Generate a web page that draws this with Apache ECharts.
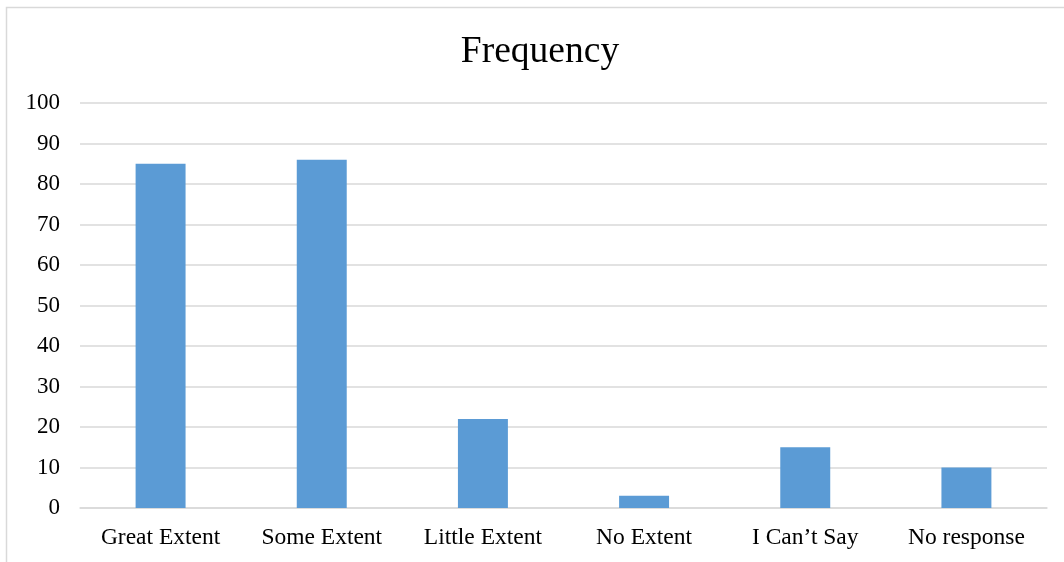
<!DOCTYPE html>
<html>
<head>
<meta charset="utf-8">
<script src="https://cdn.jsdelivr.net/npm/echarts@6/dist/echarts.min.js"></script>
<style>
  html, body { margin: 0; padding: 0; background: #fff; }
  #chart { width: 1064px; height: 562px; }
</style>
</head>
<body>
<div id="chart"></div>
<script>
var categories = ['Great Extent', 'Some Extent', 'Little Extent', 'No Extent', 'I Can\u2019t Say', 'No response'];
var frequency = [85, 86, 22, 3, 15, 10];
var titleText = 'Frequency';

var serif = '"Liberation Serif", "Times New Roman", serif';

var myChart = echarts.init(document.getElementById('chart'));

myChart.setOption({
  backgroundColor: '#fff',
  animation: false,
  title: {
    text: titleText,
    left: 535,
    top: 28,
    textAlign: 'center',
    textStyle: { fontFamily: serif, fontSize: 37.5, fontWeight: 'normal', color: '#000' }
  },
  graphic: [{
    type: 'rect',
    shape: { x: 6.5, y: 7.5, width: 1200, height: 700 },
    style: { fill: 'none', stroke: '#d9d9d9', lineWidth: 1.5 },
    silent: true
  }],
  grid: { left: 80, right: 17, top: 103, bottom: 54 },
  xAxis: {
    type: 'category',
    data: categories,
    axisTick: { show: false },
    axisLine: { lineStyle: { color: '#d9d9d9', width: 1.5 } },
    axisLabel: { color: '#000', fontFamily: serif, fontSize: 23.5, margin: 18 }
  },
  yAxis: {
    type: 'value',
    min: 0,
    max: 100,
    interval: 10,
    axisLine: { show: false },
    axisTick: { show: false },
    splitLine: { lineStyle: { color: '#d9d9d9', width: 1.5 } },
    axisLabel: { color: '#000', fontFamily: serif, fontSize: 23, margin: 20 }
  },
  series: [{
    type: 'bar',
    data: frequency,
    barWidth: '31%',
    itemStyle: { color: '#5b9bd5' }
  }]
});
</script>
</body>
</html>
